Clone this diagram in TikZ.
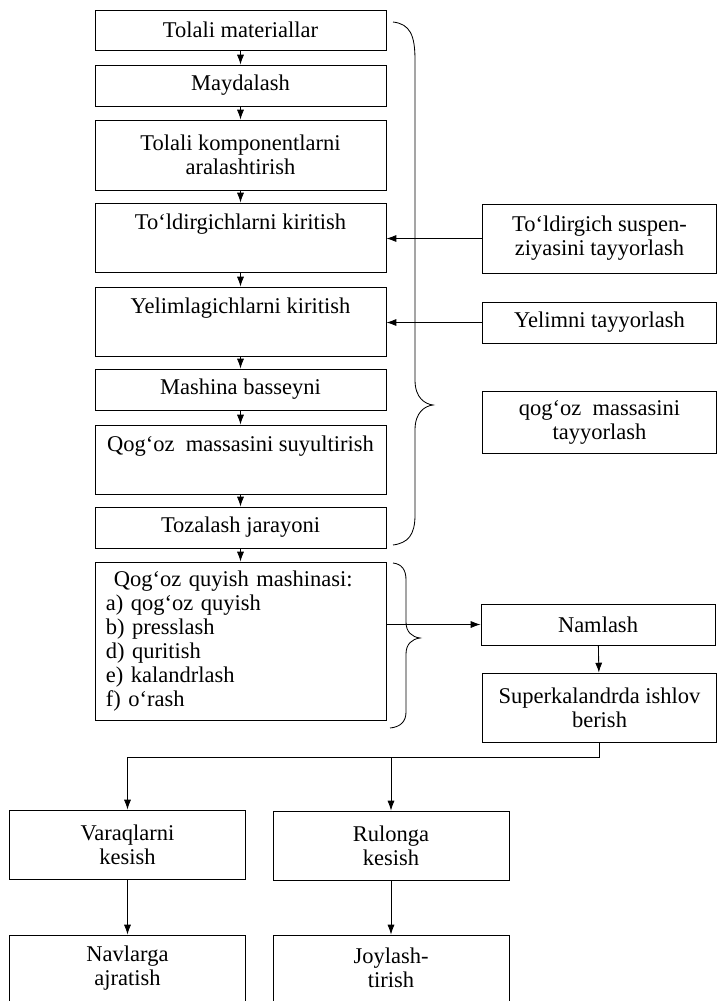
\documentclass[tikz,border=0pt]{standalone}
\usepackage{fontspec}
\setmainfont{Liberation Serif}
\usetikzlibrary{arrows.meta}

\begin{document}
\begin{tikzpicture}[x=0.025cm, y=-0.025cm, line width=0.6pt, >={Latex[length=7pt,width=5pt]},
    font=\fontsize{16pt}{17pt}\selectfont,
    box/.style = {draw, align=center, inner sep=2pt},
    main/.style = {box, minimum width=7.275cm, minimum height=1.025cm},
    topbox/.style = {main, inner ysep=0pt, text height=0.65cm, text depth=1.075cm},
    side/.style = {box, minimum width=5.85cm, minimum height=1.025cm},
    low/.style = {box, minimum width=5.9cm, minimum height=1.725cm}]
    \useasboundingbox (0,0) rectangle (717,1001);
    \node[main] (b1) at (240.5,30) [minimum height=1cm] {Tolali materiallar};
    \node[main] (b2) at (240.5,85.5) {Maydalash};
    \node[main] (b3) at (240.5,155) [minimum height=1.75cm] {Tolali komponentlarni\\aralashtirish};
    \node[topbox] (b4) at (240.5,237.5) {To‘ldirgichlarni kiritish};
    \node[topbox] (b5) at (240.5,321.5) {Yelimlagichlarni kiritish};
    \node[main] (b6) at (240.5,389.5) {Mashina basseyni};
    \node[topbox] (b7) at (240.5,459.5) {Qog‘oz\ \ massasini suyultirish};
    \node[main] (b8) at (240.5,527.5) {Tozalash jarayoni};
    \node[box, align=left, text width=6.725cm, inner xsep=0.275cm, minimum height=3.95cm] (b9) at (240.5,641)
        {\hspace{0.2cm}Qog‘oz quyish mashinasi:\\a) qog‘oz quyish\\b) presslash\\d) quritish\\e) kalandrlash\\f) o‘rash};
    \node[side] (r1) at (599.5,238.5) [minimum height=1.725cm] {To‘ldirgich suspen-\\ziyasini tayyorlash};
    \node[side] (r2) at (599.5,322.5) {Yelimni tayyorlash};
    \node[side] (r3) at (599.5,422) [minimum height=1.55cm] {qog‘oz\ \ massasini\\tayyorlash};
    \node[side] (nam) at (598,624.5) {Namlash};
    \node[side] (sup) at (599.5,707.5) [minimum height=1.725cm] {Superkalandrda ishlov\\berish};
    \node[low] (var) at (127.5,844.5) {Varaqlarni\\kesish};
    \node[low] (rul) at (391,845.5) {Rulonga\\kesish};
    \node[low] (nav) at (127.5,968) [minimum height=1.65cm] {Navlarga\\ajratish};
    \node[low] (joy) at (391,968) [minimum height=1.65cm] {Joylash-\\tirish};
    \coordinate (hl) at (0,757);
    \draw[->] (b1) -- (b2);
    \draw[->] (b2) -- (b3);
    \draw[->] (b3) -- (b4);
    \draw[->] (b4) -- (b5);
    \draw[->] (b5) -- (b6);
    \draw[->] (b6) -- (b7);
    \draw[->] (b7) -- (b8);
    \draw[->] (b8) -- (b9);
    \draw (393,22) .. controls (410,24) and (415,35) .. (415,60) -- (415,380)
        .. controls (415,398) and (425,404) .. (433,405) .. controls (425,406) and (415,412) .. (415,430)
        -- (415,515) .. controls (415,535) and (408,543) .. (393,545);
    \draw (393,563) .. controls (402,564) and (406,570) .. (406,580) -- (406,622)
        .. controls (406,632) and (412,637) .. (420,638) .. controls (412,639) and (406,644) .. (406,654)
        -- (406,712) .. controls (406,722) and (400,727) .. (390,728);
    \draw[->] (r1.west) -- (r1.west -| b4.east);
    \draw[->] (r2.west) -- (r2.west -| b5.east);
    \draw[->] (b9.east |- nam.west) -- (nam.west);
    \draw[->] (nam) -- (sup);
    \draw[->] (sup.south) -- (sup.south |- hl) -| (var.north);
    \draw[->] (rul.north |- hl) -- (rul.north);
    \draw[->] (var) -- (nav);
    \draw[->] (rul) -- (joy);
\end{tikzpicture}
\end{document}
